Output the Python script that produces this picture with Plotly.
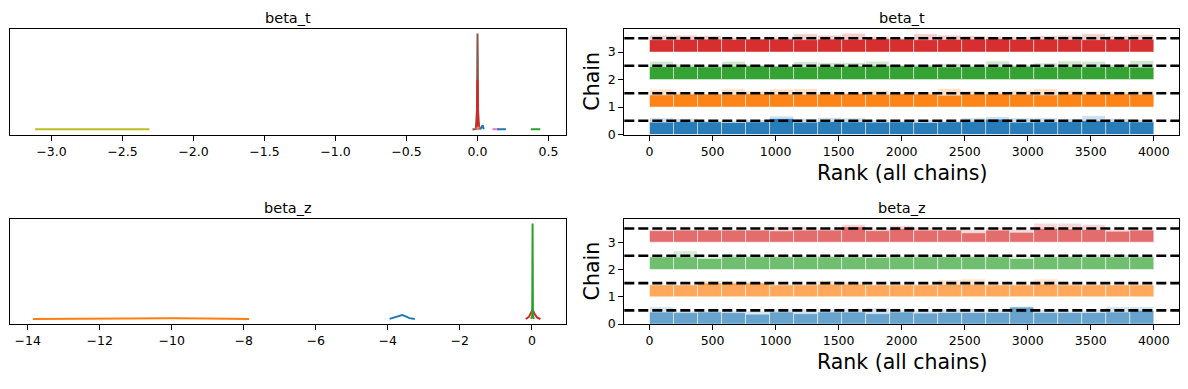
import numpy as np
import plotly.graph_objects as go

# ---------------- data ----------------
# Left panels: per-series density curves (x, density in arbitrary units)
bt_olive_x = [-3.115, -2.9, -2.7, -2.5, -2.31]
bt_olive_y = [0.004, 0.005, 0.005, 0.005, 0.004]
bt_brown_x = [-0.036, -0.012, -0.004, -0.0015, 0.0, 0.0015, 0.004, 0.012]
bt_brown_y = [0.003, 0.008, 0.2, 0.8, 1.0, 0.8, 0.2, 0.004]
bt_red_x = [-0.008, -0.003, -0.001, 0.0, 0.001, 0.003, 0.01]
bt_red_y = [0.003, 0.1, 0.4, 0.515, 0.4, 0.1, 0.003]
bt_purple_x = [-0.012, -0.004, 0.004, 0.012]
bt_purple_y = [0.004, 0.02, 0.02, 0.004]
bt_orange_x = [-0.002, 0.004, 0.01, 0.016]
bt_orange_y = [0.004, 0.025, 0.02, 0.004]
bt_blue0_x = [0.018, 0.028, 0.036, 0.044]
bt_blue0_y = [0.004, 0.03, 0.045, 0.004]
bt_pink_x = [0.105, 0.12, 0.135, 0.15]
bt_pink_y = [0.004, 0.006, 0.006, 0.004]
bt_blue_x = [0.14, 0.16, 0.18, 0.2]
bt_blue_y = [0.004, 0.006, 0.006, 0.004]
bt_green_x = [0.375, 0.4, 0.42, 0.442]
bt_green_y = [0.004, 0.006, 0.006, 0.004]

bz_orange_x = [-13.85, -13.0, -12.0, -11.0, -10.0, -9.0, -7.85]
bz_orange_y = [0.004, 0.006, 0.010, 0.014, 0.011, 0.007, 0.004]
bz_blue_x = [-3.95, -3.8, -3.7, -3.6, -3.5, -3.4, -3.25]
bz_blue_y = [0.004, 0.018, 0.035, 0.044, 0.03, 0.012, 0.004]
bz_red_x = [-0.17, -0.08, -0.02, 0.02, 0.07, 0.14, 0.24]
bz_red_y = [0.003, 0.025, 0.07, 0.1, 0.06, 0.02, 0.003]
bz_green_x = [-0.02, 0.01, 0.016, 0.02, 0.024, 0.03, 0.06]
bz_green_y = [0.003, 0.03, 0.6, 1.0, 0.6, 0.03, 0.003]

# Right panels: rank histogram heights (21 bins over ranks 0..4000), per chain
rank_min, rank_max, n_bins = 0, 4000, 21
chains = [0, 1, 2, 3]

bt_lo = [
    [0.45, 0.47, 0.46, 0.44, 0.46, 0.58, 0.45, 0.47, 0.46, 0.45, 0.46, 0.44, 0.46, 0.47, 0.56, 0.45, 0.46, 0.47, 0.50, 0.47, 0.46],
    [0.44, 0.47, 0.47, 0.46, 0.48, 0.47, 0.46, 0.47, 0.48, 0.46, 0.48, 0.47, 0.43, 0.47, 0.48, 0.46, 0.44, 0.47, 0.47, 0.48, 0.46],
    [0.47, 0.47, 0.46, 0.48, 0.50, 0.48, 0.46, 0.48, 0.49, 0.50, 0.50, 0.48, 0.46, 0.47, 0.47, 0.48, 0.46, 0.47, 0.46, 0.47, 0.45],
    [0.45, 0.46, 0.47, 0.46, 0.47, 0.47, 0.45, 0.47, 0.46, 0.48, 0.47, 0.45, 0.46, 0.47, 0.48, 0.46, 0.47, 0.46, 0.45, 0.47, 0.46],
]
bt_hi = [
    [0.61, 0.59, 0.51, 0.51, 0.54, 0.68, 0.59, 0.63, 0.61, 0.54, 0.49, 0.54, 0.49, 0.61, 0.66, 0.61, 0.61, 0.59, 0.70, 0.59, 0.54],
    [0.66, 0.56, 0.50, 0.66, 0.59, 0.66, 0.68, 0.56, 0.54, 0.61, 0.51, 0.56, 0.68, 0.59, 0.56, 0.61, 0.68, 0.61, 0.59, 0.56, 0.61],
    [0.67, 0.57, 0.51, 0.67, 0.54, 0.51, 0.66, 0.63, 0.63, 0.67, 0.54, 0.56, 0.59, 0.51, 0.68, 0.54, 0.61, 0.68, 0.67, 0.56, 0.70],
    [0.62, 0.62, 0.60, 0.53, 0.50, 0.54, 0.67, 0.62, 0.69, 0.57, 0.53, 0.67, 0.62, 0.60, 0.57, 0.55, 0.60, 0.62, 0.67, 0.60, 0.65],
]
bz_lo = [
    [0.44, 0.42, 0.44, 0.42, 0.36, 0.44, 0.38, 0.44, 0.44, 0.38, 0.44, 0.40, 0.42, 0.42, 0.42, 0.62, 0.42, 0.42, 0.42, 0.44, 0.50],
    [0.43, 0.43, 0.50, 0.50, 0.50, 0.43, 0.43, 0.46, 0.46, 0.43, 0.43, 0.43, 0.45, 0.45, 0.43, 0.43, 0.46, 0.43, 0.43, 0.43, 0.43],
    [0.46, 0.46, 0.40, 0.46, 0.46, 0.46, 0.46, 0.46, 0.46, 0.44, 0.46, 0.46, 0.46, 0.46, 0.46, 0.40, 0.46, 0.46, 0.46, 0.46, 0.46],
    [0.42, 0.44, 0.44, 0.44, 0.44, 0.41, 0.44, 0.44, 0.56, 0.42, 0.50, 0.44, 0.44, 0.34, 0.44, 0.36, 0.50, 0.48, 0.46, 0.40, 0.44],
]
bz_hi = [
    [0.64, 0.48, 0.52, 0.50, 0.48, 0.55, 0.56, 0.56, 0.56, 0.60, 0.52, 0.50, 0.56, 0.58, 0.52, 0.66, 0.52, 0.48, 0.52, 0.64, 0.64],
    [0.47, 0.46, 0.60, 0.58, 0.55, 0.47, 0.48, 0.60, 0.56, 0.47, 0.48, 0.48, 0.63, 0.66, 0.50, 0.50, 0.66, 0.52, 0.48, 0.47, 0.50],
    [0.48, 0.70, 0.47, 0.56, 0.52, 0.50, 0.50, 0.52, 0.48, 0.50, 0.50, 0.56, 0.48, 0.50, 0.50, 0.50, 0.48, 0.52, 0.55, 0.56, 0.50],
    [0.45, 0.46, 0.46, 0.46, 0.47, 0.58, 0.57, 0.50, 0.66, 0.52, 0.62, 0.55, 0.47, 0.46, 0.55, 0.47, 0.70, 0.70, 0.66, 0.48, 0.46],
]
ref_level = 0.5
panel_titles = ["beta_t", "beta_z"]

# ---------------- styling ----------------
TAB = {"blue": "#1f77b4", "orange": "#ff7f0e", "green": "#2ca02c", "red": "#d62728",
       "purple": "#9467bd", "brown": "#8c564b", "pink": "#e377c2", "olive": "#bcbd22"}
chain_colors = [TAB["blue"], TAB["orange"], TAB["green"], TAB["red"]]
FONT = "DejaVu Sans"
W, H = 1188, 389

def px2x(p):
    return p / W

def px2y(p):
    return 1 - p / H

L_dom = [px2x(10), px2x(565.7)]
R_dom = [px2x(624.3), px2x(1179)]
T_dom = [px2y(137), px2y(29.3)]
B_dom = [px2y(330), px2y(222.7)]

fig = go.Figure()

def add_line(x, y, color, xa, ya):
    fig.add_trace(go.Scatter(x=x, y=y, mode="lines", line=dict(color=color, width=2),
                             xaxis=xa, yaxis=ya, hoverinfo="skip"))

# top-left (beta_t densities)
for xs, ys, c in [
    (bt_olive_x, bt_olive_y, TAB["olive"]),
    (bt_pink_x, bt_pink_y, TAB["pink"]),
    (bt_blue_x, bt_blue_y, TAB["blue"]),
    (bt_green_x, bt_green_y, TAB["green"]),
    (bt_brown_x, bt_brown_y, TAB["brown"]),
    (bt_red_x, bt_red_y, TAB["red"]),
    (bt_purple_x, bt_purple_y, TAB["purple"]),
    (bt_orange_x, bt_orange_y, TAB["orange"]),
    (bt_blue0_x, bt_blue0_y, TAB["blue"]),
]:
    add_line(xs, ys, c, "x", "y")

# bottom-left (beta_z densities)
for xs, ys, c in [
    (bz_orange_x, bz_orange_y, TAB["orange"]),
    (bz_blue_x, bz_blue_y, TAB["blue"]),
    (bz_red_x, bz_red_y, TAB["red"]),
    (bz_green_x, bz_green_y, TAB["green"]),
]:
    add_line(xs, ys, c, "x3", "y3")

# rank bars
edges = np.linspace(rank_min, rank_max, n_bins + 1)
centers = (edges[1:] + edges[:-1]) / 2
bw = edges[1] - edges[0]

def add_bars(heights_lo, heights_hi, xa, ya, op_lo, op_hi):
    for ci in chains:
        fig.add_trace(go.Bar(x=centers, y=heights_hi[ci], base=ci, width=bw,
                             marker=dict(color=chain_colors[ci], line=dict(color="white", width=1)),
                             opacity=op_hi, xaxis=xa, yaxis=ya, hoverinfo="skip"))
        fig.add_trace(go.Bar(x=centers, y=heights_lo[ci], base=ci, width=bw,
                             marker=dict(color=chain_colors[ci], line=dict(color="rgba(255,255,255,0.45)", width=1)),
                             opacity=op_lo, xaxis=xa, yaxis=ya, hoverinfo="skip"))

add_bars(bt_lo, bt_hi, "x2", "y2", 0.95, 0.22)
add_bars(bz_lo, bz_hi, "x4", "y4", 0.6, 0.18)

# dashed reference lines
for ya in ["y2", "y4"]:
    for ci in chains:
        fig.add_shape(type="line", xref=ya.replace("y", "x") + " domain", yref=ya,
                      x0=0, x1=1, y0=ci + ref_level, y1=ci + ref_level,
                      line=dict(color="black", width=2.6, dash="10px,4px"), layer="above")

axis_common = dict(showline=True, mirror=True, linecolor="black", linewidth=1,
                   showgrid=False, zeroline=False, ticks="outside", ticklen=5,
                   tickwidth=1, tickcolor="black",
                   tickfont=dict(family=FONT, size=12.5, color="black"))
yaxis_hidden = dict(showline=True, mirror=True, linecolor="black", linewidth=1,
                    showgrid=False, zeroline=False, ticks="", showticklabels=False)

fig.update_layout(
    width=W, height=H, margin=dict(l=0, r=0, t=0, b=0),
    paper_bgcolor="white", plot_bgcolor="white", showlegend=False, barmode="overlay",
    xaxis=dict(domain=L_dom, anchor="y", range=[-3.292, 0.621], tickvals=[-3.0, -2.5, -2.0, -1.5, -1.0, -0.5, 0.0, 0.5],
               tickformat=".1f", **axis_common),
    yaxis=dict(domain=T_dom, anchor="x", range=[-0.05, 1.05], **yaxis_hidden),
    xaxis2=dict(domain=R_dom, anchor="y2", range=[-200, 4200], tickvals=list(range(0, 4001, 500)), **axis_common),
    yaxis2=dict(domain=T_dom, anchor="x2", range=[0, 3.846], tickvals=[0, 1, 2, 3], **axis_common),
    xaxis3=dict(domain=L_dom, anchor="y3", range=[-14.49, 0.94], tickvals=list(range(-14, 1, 2)), **axis_common),
    yaxis3=dict(domain=B_dom, anchor="x3", range=[-0.05, 1.05], **yaxis_hidden),
    xaxis4=dict(domain=R_dom, anchor="y4", range=[-200, 4200], tickvals=list(range(0, 4001, 500)), **axis_common),
    yaxis4=dict(domain=B_dom, anchor="x4", range=[0, 3.86], tickvals=[0, 1, 2, 3], **axis_common),
)

# titles
ann = []
for (cx, cy, txt) in [
    ((L_dom[0] + L_dom[1]) / 2, px2y(18.5), panel_titles[0]),
    ((R_dom[0] + R_dom[1]) / 2, px2y(18.5), panel_titles[0]),
    ((L_dom[0] + L_dom[1]) / 2, px2y(212), panel_titles[1]),
    ((R_dom[0] + R_dom[1]) / 2, px2y(212), panel_titles[1]),
]:
    ann.append(dict(x=cx, y=cy, xref="paper", yref="paper", text=txt, showarrow=False,
                    xanchor="center", yanchor="middle", font=dict(family=FONT, size=14.5, color="black")))
for cy in [px2y(83.15), px2y(276.35)]:
    ann.append(dict(x=px2x(592), y=cy, xref="paper", yref="paper", text="Chain", showarrow=False,
                    textangle=-90, xanchor="center", yanchor="middle",
                    font=dict(family=FONT, size=20.5, color="black")))
for cy in [px2y(176), px2y(369)]:
    ann.append(dict(x=(R_dom[0] + R_dom[1]) / 2, y=cy, xref="paper", yref="paper",
                    text="Rank (all chains)", showarrow=False, xanchor="center", yanchor="middle",
                    font=dict(family=FONT, size=20.5, color="black")))
fig.update_layout(annotations=ann)

fig.write_html("out.html", config={"displayModeBar": False},
               post_script="document.body.style.margin='0';document.body.style.padding='0';document.body.style.overflow='hidden';")
